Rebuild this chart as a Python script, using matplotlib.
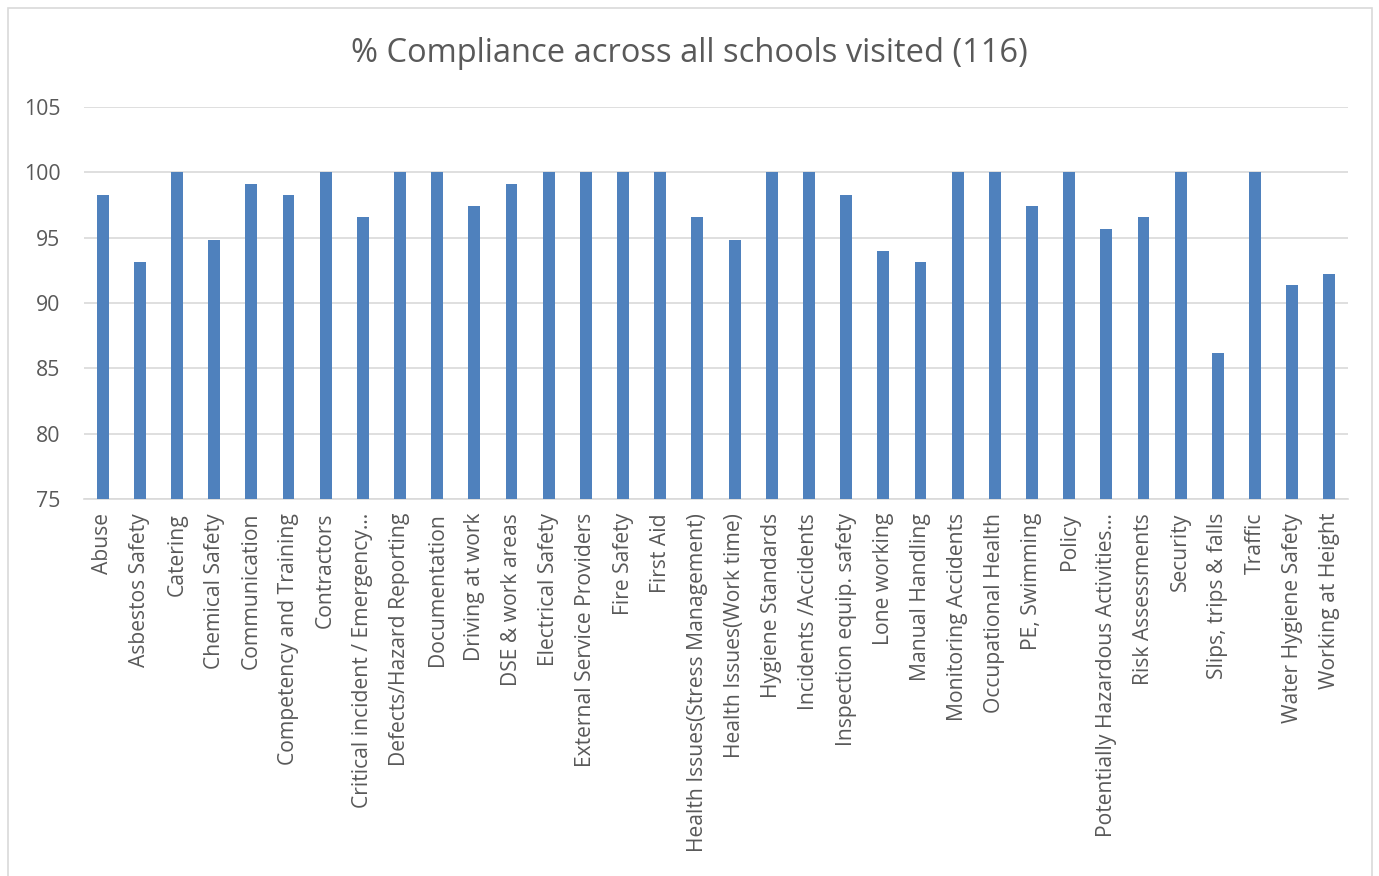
import numpy as np
import matplotlib
matplotlib.use('Agg')
import matplotlib.pyplot as plt
from matplotlib.patches import Rectangle

W, H = 1379, 876

categories = [
    'Abuse', 'Asbestos Safety', 'Catering', 'Chemical Safety', 'Communication',
    'Competency and Training', 'Contractors', 'Critical incident / Emergency\u2026',
    'Defects/Hazard Reporting', 'Documentation', 'Driving at work', 'DSE & work areas',
    'Electrical Safety', 'External Service Providers', 'Fire Safety', 'First Aid',
    'Health Issues(Stress Management)', 'Health Issues(Work time)', 'Hygiene Standards',
    'Incidents /Accidents', 'Inspection equip. safety', 'Lone working', 'Manual Handling',
    'Monitoring Accidents', 'Occupational Health', 'PE, Swimming', 'Policy',
    'Potentially Hazardous Activities\u2026', 'Risk Assessments', 'Security',
    'Slips, trips & falls', 'Traffic', 'Water Hygiene Safety', 'Working at Height',
]

# % compliance per topic (116 schools)
compliance = [
    98.28, 93.10, 100.0, 94.83, 99.14,
    98.28, 100.0, 96.55,
    100.0, 100.0, 97.41, 99.14,
    100.0, 100.0, 100.0, 100.0,
    96.55, 94.83, 100.0,
    100.0, 98.28, 93.97, 93.10,
    100.0, 100.0, 97.41, 100.0,
    95.69, 96.55, 100.0,
    86.21, 100.0, 91.38, 92.24,
]

y_ticks = [75, 80, 85, 90, 95, 100, 105]

TEXT = '#595959'
GRID = '#D9D9D9'
BAR = '#4F81BD'
plt.rcParams['font.family'] = ['Open Sans', 'DejaVu Sans']

fig = plt.figure(figsize=(W / 100, H / 100), dpi=100)
fig.patches.append(Rectangle((8 / W, -0.01), (1372 - 8) / W, (H - 8) / H + 0.01,
                             transform=fig.transFigure, fill=False,
                             edgecolor=GRID, linewidth=1.2))

left, right, bottom, top = 84, 1348, 499, 107
ax = fig.add_axes([left / W, 1 - bottom / H, (right - left) / W, (bottom - top) / H])

x = np.arange(len(categories))
ax.bar(x, compliance, width=0.32, color=BAR, zorder=3)

ax.set_xlim(-0.5, len(categories) - 0.5)
ax.set_ylim(75, 105)
ax.set_yticks(y_ticks)
ax.set_xticks(x)
ax.set_xticklabels(categories, rotation=90, fontsize=15.2, color=TEXT)
ax.tick_params(axis='y', labelsize=15.3, labelcolor=TEXT, length=0, pad=17)
ax.tick_params(axis='x', length=0, pad=10)
ax.grid(axis='y', color=GRID, linewidth=1.2, zorder=0)
for s in ['top', 'right', 'left']:
    ax.spines[s].set_visible(False)
ax.spines['bottom'].set_color(GRID)
ax.spines['bottom'].set_linewidth(1.2)

fig.text(0.5, 1 - 53 / H, '% Compliance across all schools visited (116)',
         ha='center', va='center', fontsize=23.5, color=TEXT)

fig.savefig('out.png', dpi=100)
